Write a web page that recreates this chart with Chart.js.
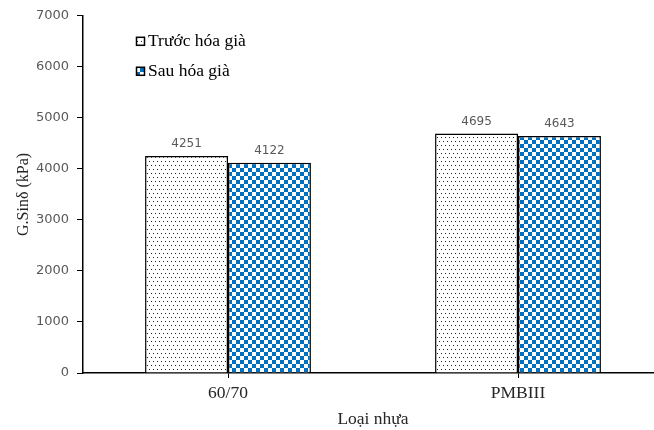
<!DOCTYPE html>
<html>
<head>
<meta charset="utf-8">
<script src="https://cdn.jsdelivr.net/npm/chart.js@4/dist/chart.umd.min.js"></script>
<style>
  html, body { margin:0; padding:0; background:#fff; overflow:hidden; }
  #wrap { width:654px; height:430px; overflow:hidden; }
</style>
</head>
<body>
<div id="wrap"><canvas id="chart" width="664" height="430"></canvas></div>
<script>
const categories  = ['60/70', 'PMBIII'];
const seriesNames = ['Trước hóa già', 'Sau hóa già'];
const beforeAging = [4251, 4695];
const afterAging  = [4122, 4643];
const yTicks      = [0, 1000, 2000, 3000, 4000, 5000, 6000, 7000];

// fill patterns: dotted (before) and blue checker (after)
function makePattern(draw){
  const c = document.createElement('canvas');
  c.width = 8; c.height = 8;
  const g = c.getContext('2d');
  g.fillStyle = '#fff';
  g.fillRect(0, 0, 8, 8);
  draw(g);
  return document.getElementById('chart').getContext('2d').createPattern(c, 'repeat');
}
const dotPattern = makePattern(g => {
  g.fillStyle = '#222';
  [[1,1],[5,1],[3,5],[7,5]].forEach(([x,y]) => g.fillRect(x, y, 1, 1));
});
const checkPattern = makePattern(g => {
  g.fillStyle = '#0070C0';
  g.fillRect(0, 0, 4, 4);
  g.fillRect(4, 4, 4, 4);
});

// value labels above the bars
const valueLabels = {
  id: 'valueLabels',
  afterDatasetsDraw(chart){
    const ctx = chart.ctx;
    ctx.save();
    ctx.font = '12px "DejaVu Sans"';
    ctx.fillStyle = '#595959';
    ctx.textAlign = 'center';
    ctx.textBaseline = 'bottom';
    chart.data.datasets.forEach((ds, i) => {
      chart.getDatasetMeta(i).data.forEach((bar, j) => {
        ctx.fillText(ds.data[j], bar.x, bar.y - 6);
      });
    });
    ctx.restore();
  }
};

// legend inside the plot, top-left
const innerLegend = {
  id: 'innerLegend',
  afterDraw(chart){
    const ctx = chart.ctx;
    const x0 = chart.chartArea.left + 53;
    let y0 = chart.chartArea.top + 21;
    ctx.save();
    ctx.font = '17.5px "Liberation Serif"';
    ctx.textBaseline = 'middle';
    chart.data.datasets.forEach(ds => {
      ctx.fillStyle = ds.backgroundColor;
      ctx.fillRect(x0, y0, 9, 9);
      ctx.strokeStyle = '#000';
      ctx.lineWidth = 1.5;
      ctx.strokeRect(x0 + 0.5, y0 + 0.5, 8, 8);
      ctx.fillStyle = '#000';
      ctx.fillText(ds.label, x0 + 12, y0 + 5);
      y0 += 30;
    });
    ctx.restore();
  }
};

new Chart(document.getElementById('chart'), {
  type: 'bar',
  data: {
    labels: categories,
    datasets: [
      { label: seriesNames[0], data: beforeAging, backgroundColor: dotPattern,
        borderColor: '#000', borderWidth: 1.5 },
      { label: seriesNames[1], data: afterAging, backgroundColor: checkPattern,
        borderColor: '#000', borderWidth: 1.5 }
    ]
  },
  options: {
    responsive: false,
    animation: false,
    layout: { padding: { top: 15, right: 1, left: 0, bottom: 0 } },
    plugins: { legend: { display: false }, tooltip: { enabled: false } },
    datasets: { bar: { barPercentage: 1, categoryPercentage: 0.572 } },
    scales: {
      x: {
        grid: { offset: false, drawOnChartArea: false, tickLength: 5, color: '#000' },
        border: { color: '#000', width: 1.5 },
        ticks: { color: '#262626', font: { family: 'Liberation Serif', size: 17.5 }, padding: 5 },
        title: { display: true, text: 'Loại nhựa', color: '#262626',
                 font: { family: 'Liberation Serif', size: 17.5 }, padding: { top: 0, bottom: 0 } },
        afterFit(s){ s.height = 57; }
      },
      y: {
        min: 0, max: 7000,
        afterBuildTicks(s){ s.ticks = yTicks.map(v => ({ value: v })); },
        grid: { drawOnChartArea: false, tickLength: 6, color: '#000' },
        border: { color: '#000', width: 1.5 },
        ticks: { color: '#595959', font: { family: 'DejaVu Sans', size: 13 }, padding: 8,
                 callback: v => String(v) },
        title: { display: true, text: 'G.Sinδ (kPa)', color: '#262626',
                 font: { family: 'Liberation Serif', size: 16 }, padding: { top: 14, bottom: 0 } },
        afterFit(s){ s.width = 83; }
      }
    }
  },
  plugins: [valueLabels, innerLegend]
});
</script>
</body>
</html>
